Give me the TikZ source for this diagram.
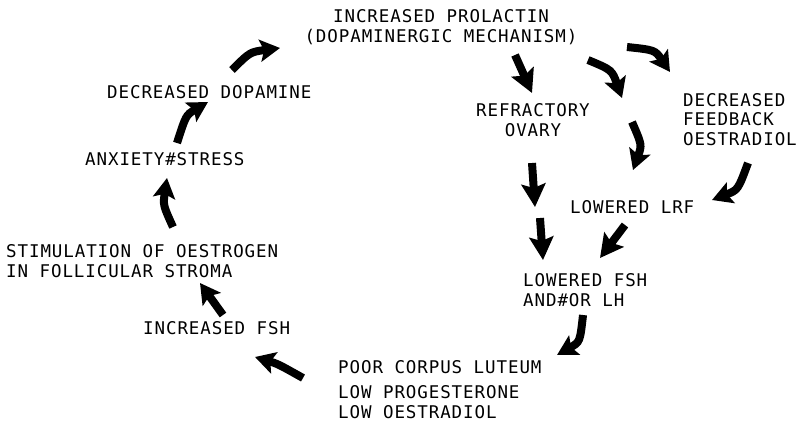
\documentclass[tikz,border=0pt]{standalone}
\usepackage{fontspec}
\usetikzlibrary{arrows.meta}
\newfontfamily\plotfont{DejaVu Sans Mono}[LetterSpace=5.2]
\begin{document}
\begin{tikzpicture}[x=1pt,y=-1pt,
  lbl/.style={inner sep=0pt,font=\plotfont\fontsize{17.5}{19.5}\selectfont},
  fat/.style={line width=8pt,-{Stealth[length=20pt,width=22pt,inset=4pt]}},
  bigfat/.style={line width=8pt,-{Stealth[length=23pt,width=24pt,inset=4pt]}}]
\useasboundingbox (0,0) rectangle (803,421);
% texts
\node[lbl,anchor=base,align=center] (prl) at (441,42) {INCREASED PROLACTIN\\(DOPAMINERGIC MECHANISM)};
\node[lbl,anchor=base west] (dop) at (107,98) {DECREASED DOPAMINE};
\node[lbl,anchor=base west] (anx) at (85,165) {ANXIETY\#STRESS};
\node[lbl,anchor=base west,align=left] (sti) at (6,277) {STIMULATION OF OESTROGEN\\IN FOLLICULAR STROMA};
\node[lbl,anchor=base west] (fsh) at (143,334) {INCREASED FSH};
\node[lbl,anchor=base west] (pcl) at (338,373) {POOR CORPUS LUTEUM};
\node[lbl,anchor=base west,align=left] (low) at (338,418) {LOW PROGESTERONE\\LOW OESTRADIOL};
\node[lbl,anchor=base,align=center] (ref) at (533,136) {REFRACTORY\\OVARY};
\node[lbl,anchor=base west,align=left] (dfb) at (683,145) {DECREASED\\FEEDBACK\\OESTRADIOL};
\node[lbl,anchor=base west] (lrf) at (570,213) {LOWERED LRF};
\node[lbl,anchor=base west,align=left] (lfs) at (523,306) {LOWERED FSH\\AND\#OR LH};
% arrow ends
\coordinate (a1s) at (223,315); \coordinate (a1e) at (200,283);
\coordinate (a2s) at (173,227); \coordinate (a2e) at (167,178);
\coordinate (a3s) at (177,143); \coordinate (a3e) at (208,102);
\coordinate (a4s) at (232,70);  \coordinate (a4e) at (280,48);
\coordinate (a5s) at (515,55);  \coordinate (a5e) at (532,93);
\coordinate (a6s) at (588,60);  \coordinate (a6e) at (622,98);
\coordinate (a7s) at (627,47);  \coordinate (a7e) at (670,72);
\coordinate (a8s) at (632,122); \coordinate (a8e) at (633,170);
\coordinate (a9s) at (748,163); \coordinate (a9e) at (712,200);
\coordinate (a10s) at (532,163); \coordinate (a10e) at (535,207);
\coordinate (a11s) at (540,218); \coordinate (a11e) at (543,260);
\coordinate (a12s) at (625,225); \coordinate (a12e) at (600,258);
\coordinate (a13s) at (583,315); \coordinate (a13e) at (557,355);
\coordinate (a14s) at (303,378); \coordinate (a14e) at (255,357);
% arrows
\draw[fat] (a1s) -- (a1e);
\draw[fat] (a2s) .. controls (163,205) .. (a2e);
\draw[fat] (a3s) .. controls (186,115) .. (a3e);
\draw[fat] (a4s) .. controls (250,52) .. (a4e);
\draw[bigfat] (a5s) -- (a5e);
\draw[fat] (a6s) .. controls (612,70) .. (a6e);
\draw[fat] (a7s) .. controls (655,50) .. (a7e);
\draw[fat] (a8s) .. controls (642,145) .. (a8e);
\draw[fat] (a9s) .. controls (738,190) .. (a9e);
\draw[bigfat] (a10s) -- (a10e);
\draw[bigfat] (a11s) -- (a11e);
\draw[bigfat] (a12s) -- (a12e);
\draw[fat] (a13s) .. controls (580,342) .. (a13e);
\draw[fat] (a14s) .. controls (278,364) .. (a14e);
\end{tikzpicture}
\end{document}
